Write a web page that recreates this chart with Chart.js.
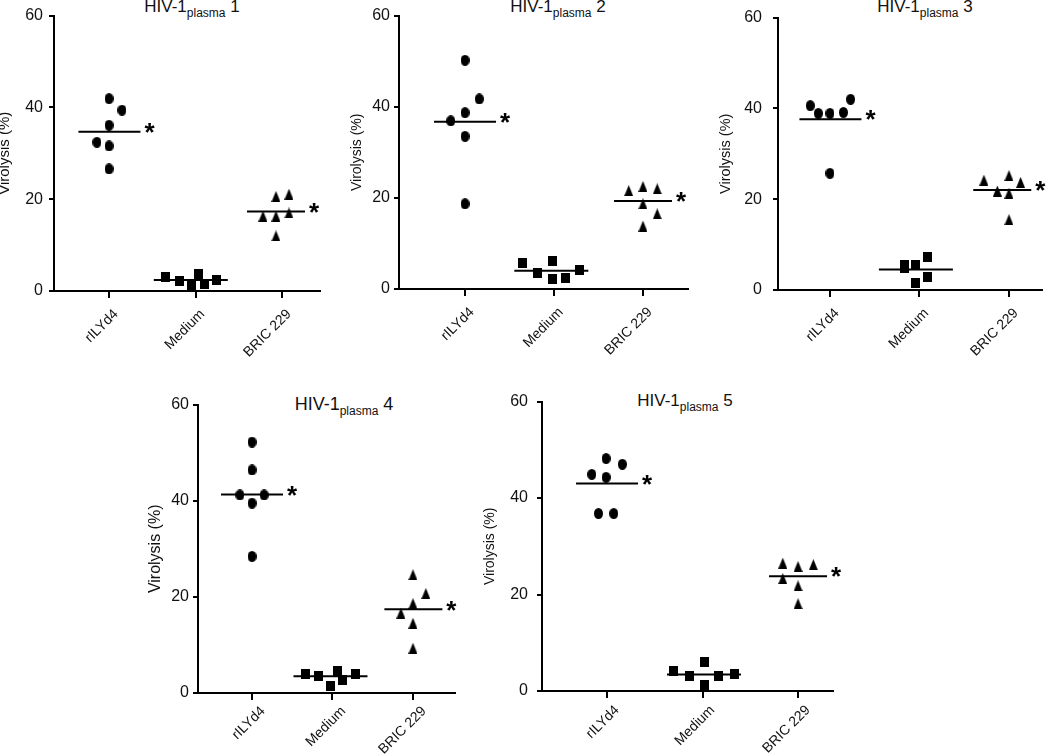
<!DOCTYPE html>
<html lang="en">
<head>
  <meta charset="UTF-8" />
  <title>Virolysis of HIV-1 plasma isolates</title>
  <script src="https://cdn.jsdelivr.net/npm/chart.js"></script>
  <style>
    body {
      margin: 0;
      background: #fff;
      font-family: 'Liberation Sans', Arial, Helvetica, sans-serif;
      color: #000;
    }

    #figure {
      position: relative;
      width: 1050px;
      height: 756px;
      overflow: hidden;
      background: #fff;
    }

    #figure canvas {
      position: absolute;
    }

    .panel-title {
      position: absolute;
      transform: translateX(-50%);
      white-space: nowrap;
      line-height: 20px;
      color: #111;
    }

    .panel-title .sub {
      position: relative;
      top: 5px;
      font-size: 12px;
    }
  </style>
</head>
<body>

  <div id="figure"></div>

  <script>
    // categories and y ticks shared by all five panels
    const groups = ['rILYd4', 'Medium', 'BRIC 229'];
    const yTicks = [0, 20, 40, 60];
    const starred = [true, false, true];

    // virolysis (%) per donor; jitter = horizontal spread in category units
    const p1Values = [
      [41.9, 39.4, 36.1, 32.4, 31.6, 26.6],
      [3.1, 2.1, 1.1, 3.7, 1.6, 2.5],
      [16.3, 20.6, 16.3, 12.0, 21.1, 17.0]
    ];
    const p1Jitter = [
      [0, 0.15, 0, -0.14, 0, 0],
      [-0.35, -0.19, -0.05, 0.03, 0.10, 0.24],
      [-0.22, -0.07, -0.07, -0.07, 0.08, 0.08]
    ];
    const p1Means = [34.7, 2.4, 17.3];

    const p2Values = [
      [50.2, 41.7, 38.7, 36.9, 33.5, 18.7],
      [5.6, 3.6, 6.2, 2.1, 2.5, 4.1],
      [21.6, 22.5, 22.0, 18.7, 16.5, 13.8]
    ];
    const p2Jitter = [
      [0, 0.16, 0, -0.16, 0, 0],
      [-0.35, -0.19, -0.02, -0.02, 0.13, 0.29],
      [-0.16, 0, 0.16, 0, 0.16, 0]
    ];
    const p2Means = [36.7, 4.0, 19.3];

    const p3Values = [
      [40.6, 38.9, 38.9, 39.1, 42.0, 25.7],
      [5.6, 4.8, 5.5, 1.6, 7.3, 2.8],
      [24.2, 21.8, 25.2, 21.3, 23.7, 15.5]
    ];
    const p3Jitter = [
      [-0.22, -0.13, 0, 0.15, 0.23, 0],
      [-0.17, -0.17, -0.04, -0.04, 0.09, 0.09],
      [-0.28, -0.13, 0, 0, 0.13, 0]
    ];
    const p3Means = [37.6, 4.5, 22.0];

    const p4Values = [
      [52.2, 46.4, 41.2, 41.2, 39.5, 28.4],
      [4.0, 3.6, 1.5, 4.6, 2.8, 3.9],
      [24.6, 20.7, 18.6, 16.6, 14.5, 9.3]
    ];
    const p4Jitter = [
      [0, 0, -0.15, 0.15, 0, 0],
      [-0.34, -0.18, -0.03, 0.06, 0.13, 0.29],
      [0, 0.16, 0, -0.15, 0, 0]
    ];
    const p4Means = [41.3, 3.5, 17.4];

    const p5Values = [
      [44.9, 48.2, 44.3, 47.0, 36.8, 36.8],
      [4.2, 3.2, 6.0, 1.2, 3.2, 3.5],
      [26.5, 25.8, 26.2, 23.3, 21.8, 18.1]
    ];
    const p5Jitter = [
      [-0.16, -0.01, -0.01, 0.16, -0.09, 0.07],
      [-0.30, -0.14, 0.02, 0.02, 0.17, 0.33],
      [-0.16, 0, 0.16, -0.16, 0, 0]
    ];
    const p5Means = [43.0, 3.4, 23.8];

    const FONT = "'Liberation Sans', Arial, Helvetica, sans-serif";
    Chart.defaults.font.family = FONT;
    Chart.defaults.color = '#000';

    // markers in the original are a bit taller than wide, so build them as small images
    function makeMarker(kind, w, h) {
      const c = document.createElement('canvas');
      c.width = w;
      c.height = h;
      const g = c.getContext('2d');
      g.fillStyle = '#000';
      g.beginPath();
      if (kind === 'circle') {
        g.ellipse(w / 2, h / 2, w / 2, h / 2, 0, 0, 2 * Math.PI);
      } else if (kind === 'rect') {
        g.rect(0, 0, w, h);
      } else {
        g.moveTo(w / 2, 0);
        g.lineTo(w, h);
        g.lineTo(0, h);
        g.closePath();
      }
      g.fill();
      return c;
    }
    const markers = [makeMarker('circle', 9, 11), makeMarker('rect', 9, 10), makeMarker('triangle', 9, 11)];
    const meanHalfPx = [31, 37, 29];

    const YW = 64, XH = 80, PAD_TOP = 12, PAD_RIGHT = 10;

    // plot-area geometry of each panel in the page (px)
    const panels = [
      { n: '1', values: p1Values, jitter: p1Jitter, means: p1Means,
        left: 54, right: 320, top: 12, bottom: 291, xMin: -0.636, xMax: 2.439, xPad: 8, xShift: 7,
        tickPad: 6, yTitleFont: 15, yTitlePad: 6, titleX: 192, titleTop: -3, titleFont: 17 },
      { n: '2', values: p2Values, jitter: p2Jitter, means: p2Means,
        left: 399, right: 688, top: 14, bottom: 289, xMin: -0.742, xMax: 2.506, xPad: 8, xShift: 7,
        tickPad: 4, yTitleFont: 14, yTitlePad: 13.6, titleX: 558, titleTop: -3, titleFont: 17 },
      { n: '3', values: p3Values, jitter: p3Jitter, means: p3Means,
        left: 778, right: 1042, top: 9, bottom: 290, xMin: -0.581, xMax: 2.369, xPad: 8, xShift: 7,
        tickPad: 11, yTitleFont: 14.5, yTitlePad: 3.3, titleX: 925, titleTop: -3, titleFont: 17 },
      { n: '4', values: p4Values, jitter: p4Jitter, means: p4Means,
        left: 198, right: 455, top: 403, bottom: 693, xMin: -0.671, xMax: 2.522, xPad: 3, xShift: 11,
        tickPad: 4, yTitleFont: 16, yTitlePad: 12.4, titleX: 344, titleTop: 394, titleFont: 18 },
      { n: '5', values: p5Values, jitter: p5Jitter, means: p5Means,
        left: 542, right: 833, top: 395, bottom: 691, xMin: -0.681, xMax: 2.366, xPad: 4, xShift: 10,
        tickPad: 9, yTitleFont: 14, yTitlePad: 3.6, titleX: 685, titleTop: 391, titleFont: 17 }
    ];

    // draws the significance star just right of a mean line
    const asteriskPlugin = {
      id: 'asterisk',
      afterDatasetsDraw(chart) {
        const ctx = chart.ctx;
        chart.data.datasets.forEach((ds, i) => {
          if (!ds.asterisk) return;
          const end = chart.getDatasetMeta(i).data[1];
          ctx.save();
          ctx.fillStyle = '#000';
          ctx.font = 'bold 26px ' + FONT;
          ctx.textAlign = 'center';
          ctx.textBaseline = 'middle';
          ctx.fillText('*', end.x + 9, end.y + 2);
          ctx.restore();
        });
      }
    };

    const figure = document.getElementById('figure');

    panels.forEach(p => {
      const title = document.createElement('div');
      title.className = 'panel-title';
      title.style.left = p.titleX + 'px';
      title.style.top = p.titleTop + 'px';
      title.style.fontSize = p.titleFont + 'px';
      title.innerHTML = 'HIV-1<span class="sub">plasma</span> ' + p.n;
      figure.appendChild(title);

      const canvas = document.createElement('canvas');
      canvas.width = (p.right - p.left) + YW + PAD_RIGHT;
      canvas.height = (p.bottom - p.top) + PAD_TOP + XH;
      canvas.style.left = (p.left - YW) + 'px';
      canvas.style.top = (p.top - PAD_TOP) + 'px';
      figure.appendChild(canvas);

      const pxPerUnit = (p.right - p.left) / (p.xMax - p.xMin);
      const datasets = [];

      groups.forEach((g, gi) => {
        datasets.push({
          label: g,
          data: p.values[gi].map((v, k) => ({ x: gi + p.jitter[gi][k], y: v })),
          pointStyle: markers[gi],
          pointRadius: 5,
          pointHoverRadius: 5,
          backgroundColor: '#000',
          borderColor: '#000',
          borderWidth: 0,
          clip: false
        });

        const centre = gi + (Math.min(...p.jitter[gi]) + Math.max(...p.jitter[gi])) / 2;
        const half = meanHalfPx[gi] / pxPerUnit;
        datasets.push({
          label: g + ' mean',
          data: [{ x: centre - half, y: p.means[gi] }, { x: centre + half, y: p.means[gi] }],
          showLine: true,
          borderColor: '#000',
          borderWidth: 2,
          pointRadius: 0,
          pointHoverRadius: 0,
          asterisk: starred[gi],
          clip: false
        });
      });

      new Chart(canvas, {
        type: 'scatter',
        data: { datasets },
        options: {
          responsive: false,
          animation: false,
          events: [],
          layout: { padding: { top: PAD_TOP, right: PAD_RIGHT, left: 0, bottom: 0 } },
          plugins: {
            legend: { display: false },
            tooltip: { enabled: false }
          },
          scales: {
            x: {
              type: 'linear',
              min: p.xMin,
              max: p.xMax,
              afterBuildTicks: s => { s.ticks = groups.map((g, i) => ({ value: i })); },
              afterFit: s => { s.height = XH; },
              ticks: {
                callback: (v, i) => groups[i],
                autoSkip: false,
                minRotation: 45,
                maxRotation: 45,
                padding: p.xPad,
                labelOffset: p.xShift,
                color: '#111',
                font: { size: 14 }
              },
              grid: { drawOnChartArea: false, drawTicks: true, tickLength: 7, color: '#000', lineWidth: 2 },
              border: { color: '#000', width: 2 }
            },
            y: {
              min: 0,
              max: 60,
              afterBuildTicks: s => { s.ticks = yTicks.map(v => ({ value: v })); },
              afterFit: s => { s.width = YW; },
              ticks: { padding: p.tickPad, color: '#111', font: { size: 16 } },
              grid: { drawOnChartArea: false, drawTicks: true, tickLength: 5, color: '#000', lineWidth: 2 },
              border: { color: '#000', width: 2 },
              title: {
                display: true,
                text: 'Virolysis (%)',
                color: '#111',
                font: { size: p.yTitleFont },
                padding: { top: p.yTitlePad, bottom: 0 }
              }
            }
          }
        },
        plugins: [asteriskPlugin]
      });
    });
  </script>

</body>
</html>
